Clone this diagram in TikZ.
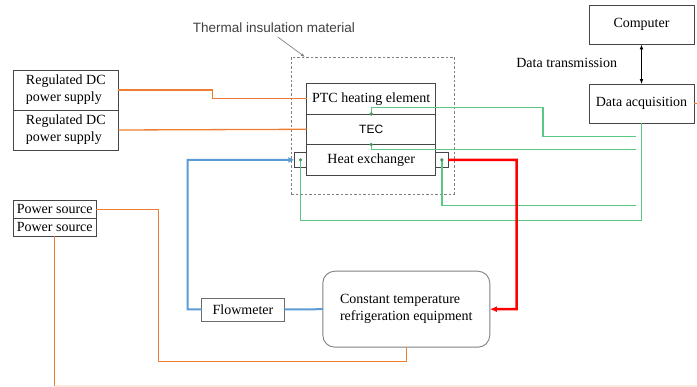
\documentclass[tikz,border=0pt]{standalone}
\usepackage{fontspec}
\setmainfont{Liberation Serif}
\setsansfont{Liberation Sans}
\usepackage{tikz}
\usetikzlibrary{positioning,arrows.meta,calc}
\definecolor{orangeln}{RGB}{237,125,49}
\definecolor{greenln}{RGB}{90,200,130}
\definecolor{blueln}{RGB}{91,155,213}
\definecolor{frame}{RGB}{70,70,70}
\newcommand{\boxfont}{\fontsize{14}{16.8}\selectfont}
\tikzset{
  blk/.style={draw=frame,line width=0.9pt,align=center,font=\boxfont,inner sep=0pt,outer sep=0pt,fill=white},
  port/.style={blk,minimum width=12.4pt,minimum height=15pt},
  insul/.style={draw=gray,dashed,line width=0.9pt,dash pattern=on 2.5pt off 2pt,minimum width=163pt,minimum height=137pt},
  lbl/.style={align=center,font=\boxfont,inner sep=0pt},
  pline/.style={orangeln,line width=1.3pt},
  sline/.style={greenln,line width=1.3pt},
  cline/.style={blueln,line width=2pt},
  hline/.style={red,line width=2.5pt},
}

\begin{document}
\begin{tikzpicture}[x=1pt,y=-1pt,
  wide/.style={blk,minimum width=129pt,minimum height=30.6pt},
  dot/.style={circle,fill=greenln!75!black,inner sep=1.3pt}]
  \useasboundingbox (0,0) rectangle (697,387);
  \node[insul] (ins) at (372.5,125.5) {};
  \node[lbl,font=\sffamily\fontsize{13.5}{16}\selectfont,text=black!75] (inslbl) at (274,28) {Thermal insulation material};
  \draw[gray,line width=0.7pt,-{Latex[length=4pt]}] (inslbl.south) ++(4,4) coordinate (ia) -- (305,57) coordinate (ib);
  \node[wide] (ptc) at (371.2,98.7) {PTC heating element};
  \node[wide,below=0pt of ptc] (tec) {\sffamily\fontsize{12}{14}\selectfont TEC};
  \node[wide,below=0pt of tec] (hx) {Heat exchanger};
  \node[port,anchor=east] (hxl) at (hx.west) {};
  \node[port,anchor=west] (hxr) at (hx.east) {};
  \node[blk,minimum width=105pt,minimum height=40pt,align=left] (dc1) at (65.8,90) {Regulated DC\\power supply};
  \node[blk,minimum width=105pt,minimum height=40pt,align=left,below=0pt of dc1] (dc2) {Regulated DC\\power supply};
  \node[blk,minimum width=82.7pt,minimum height=18.3pt] (ps1) at (54.7,209.2) {Power source};
  \node[blk,minimum width=82.7pt,minimum height=17.7pt,below=0pt of ps1] (ps2) {Power source};
  \node[blk,minimum width=105pt,minimum height=39.3pt] (comp) at (641.5,24.7) {Computer};
  \node[blk,minimum width=105pt,minimum height=39.3pt] (daq) at (641.5,103.7) {Data acquisition};
  \node[lbl] (dtx) at (566.7,63) {Data transmission};
  \node[blk,draw=frame!80,minimum width=82.6pt,minimum height=23pt] (flow) at (243,309.5) {Flowmeter};
  \node[blk,draw=gray,rounded corners=12pt,minimum width=167pt,minimum height=76pt,align=left] (fridge) at (406.3,309.2) {Constant temperature\\refrigeration equipment};
  \draw[{Latex[length=5pt]}-{Latex[length=5pt]},line width=0.9pt] (comp) -- (daq);
  \coordinate (pb) at (158.3,361.7);
  \coordinate (pend) at (697,386);
  \draw[pline] (dc1.east) -- ++(94,0) |- (ptc.west);
  \draw[pline] (dc2.east) -- (tec.west);
  \draw[pline] (ps1.east) -| (pb) -| (fridge.south);
  \draw[pline] (ps2.south) -- (ps2.south |- pend);
  \draw[pline,opacity=.15] (ps2.south |- pend) -- (pend);
  \draw[pline] (daq.east) -- (daq.east -| pend);
  \coordinate (t1) at (636,136.7);
  \coordinate (t2) at (636,149.5);
  \coordinate (t3) at (636,205.7);
  \coordinate (t4) at (641.5,220.7);
  \draw[sline] (ptc.south) |- (543,107.5) |- (t1);
  \draw[sline] (tec.south) |- (t2);
  \draw[sline] (hxr.center) |- (t3);
  \draw[sline] (hxl.center) |- (t4) -- (daq.south);
  \foreach \p in {ptc.south,tec.south,hxl.center,hxr.center}
    \node[dot] at (\p) {};
  \coordinate (fb) at (187.7,159.8);
  \draw[cline,-{Latex[length=6pt,width=6pt]}] (flow.west) -| (fb) -- (hxl.west);
  \draw[cline] (flow.east) -- (fridge.west);
  \coordinate (rb) at (516.7,159.8);
  \draw[hline,-{Latex[length=7pt,width=6pt]}] (hxr.east) -- (rb) |- (fridge.east);
\end{tikzpicture}
\end{document}
